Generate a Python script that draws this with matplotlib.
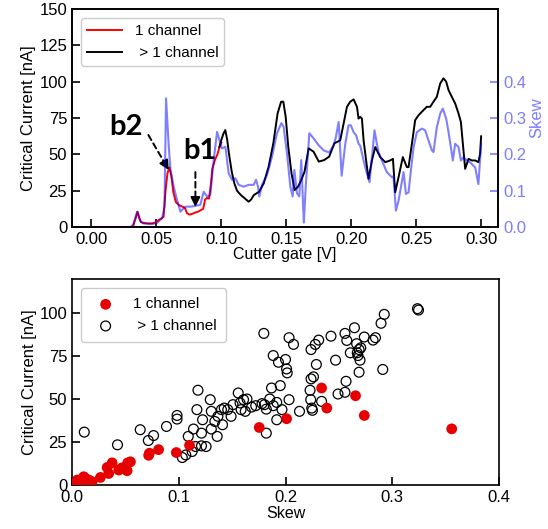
import numpy as np
import matplotlib
matplotlib.use('Agg')
import matplotlib.pyplot as plt

plt.rcParams['font.family'] = ['Liberation Sans', 'DejaVu Sans']

# --- top panel: critical current and skew vs cutter gate ---
gate_1ch = [0.000, 0.005, 0.010, 0.015, 0.020, 0.025, 0.030, 0.032, 0.034, 0.0355, 0.037, 0.038,
            0.040, 0.043, 0.047, 0.050, 0.052, 0.054, 0.0555, 0.057, 0.0585, 0.060, 0.0615, 0.063,
            0.065, 0.0675, 0.070, 0.072, 0.0735, 0.0755, 0.0775, 0.080, 0.082, 0.084, 0.086, 0.0875,
            0.089, 0.0905, 0.092, 0.093, 0.095, 0.097, 0.0985, 0.100]
ic_1ch = [0, 0, 0, 0, 0, 0, 0, 0.5, 6, 10.5, 6, 3.5,
          2.8, 2.5, 2.5, 3.5, 5, 6, 7, 25, 37, 41, 35, 24,
          17, 15, 14, 13, 9.5, 8.5, 9, 10, 10.5, 11.5, 12.5, 19,
          20, 19.5, 30, 40, 46, 50, 55, 58]

gate_multi = [0.0985, 0.100, 0.1015, 0.103, 0.1045, 0.1058, 0.108, 0.110, 0.112, 0.115, 0.118, 0.121,
              0.123, 0.125, 0.129, 0.1326, 0.1364, 0.140, 0.1433, 0.146, 0.1477, 0.1495, 0.1515, 0.154,
              0.1564, 0.159, 0.1615, 0.164, 0.1672, 0.171, 0.175, 0.179, 0.183, 0.187, 0.1915, 0.1967,
              0.1992, 0.2018, 0.2044, 0.2056, 0.2069, 0.2082, 0.2095, 0.2121, 0.2133, 0.2159, 0.2185,
              0.2223, 0.2262, 0.230, 0.2321, 0.2338, 0.2364, 0.2397, 0.2428, 0.2441, 0.2467, 0.2492,
              0.2518, 0.2556, 0.2582, 0.2608, 0.2633, 0.2659, 0.2685, 0.271, 0.2731, 0.2749, 0.2774,
              0.280, 0.2826, 0.2844, 0.2864, 0.2877, 0.289, 0.2903, 0.2928, 0.2954, 0.2979, 0.2992, 0.300]
ic_multi = [55, 60, 64, 66.7, 60, 50.7, 38, 30, 25, 22, 19.7, 17.4,
            19, 22, 24.2, 30, 41.5, 57.6, 78.2, 86.2, 86.2, 75.9, 55.3, 37,
            25.4, 27.7, 32.3, 38, 54.1, 51.8, 45, 46, 48.4, 57.6, 59.6, 82.7,
            86.2, 87.8, 82.7, 74.6, 75.8, 74.6, 59.6, 41.2, 33.1, 45.8, 55,
            48.1, 44.6, 45.8, 46.9, 23.8, 34.2, 48.1, 41.2, 41.2, 57.3, 73.5,
            76.9, 80.4, 82.7, 82.7, 86.2, 89.6, 98.8, 102.3, 100, 94.2, 89.6,
            85, 78.1, 72.3, 52.7, 40, 43.5, 46.9, 45.8, 45.8, 44.6, 50.4, 62.4]

gate_skew = [0.000, 0.030, 0.032, 0.0351, 0.0377, 0.040, 0.045, 0.050, 0.0544, 0.0562, 0.0574, 0.0595,
             0.0608, 0.0633, 0.0659, 0.0685, 0.0697, 0.0723, 0.0762, 0.080, 0.0838, 0.0864, 0.089,
             0.0915, 0.0941, 0.0967, 0.0985, 0.1005, 0.1031, 0.1056, 0.1082, 0.1108, 0.1133, 0.1172,
             0.121, 0.1249, 0.1267, 0.1282, 0.1292, 0.1313, 0.1351, 0.139, 0.1428, 0.1462, 0.1479,
             0.1505, 0.1531, 0.1549, 0.1562, 0.1582, 0.160, 0.1615, 0.1635, 0.1651, 0.1677, 0.171,
             0.1749, 0.1787, 0.183, 0.1865, 0.188, 0.1903, 0.1926, 0.1954, 0.1979, 0.1997, 0.2018,
             0.2038, 0.2056, 0.2069, 0.2095, 0.2121, 0.2141, 0.2159, 0.2179, 0.2197, 0.221, 0.2236,
             0.2274, 0.2313, 0.2325, 0.2344, 0.2364, 0.2382, 0.2403, 0.2421, 0.2441, 0.2459, 0.248,
             0.2505, 0.2544, 0.2569, 0.2595, 0.2621, 0.2633, 0.2659, 0.2685, 0.2705, 0.2731, 0.2749,
             0.2767, 0.2782, 0.280, 0.2826, 0.2844, 0.2864, 0.289, 0.2915, 0.2954, 0.2979, 0.300]
skew_line = [0, 0, 0.005, 0.042, 0.015, 0.010, 0.008, 0.010, 0.024, 0.056, 0.354, 0.221,
             0.157, 0.111, 0.074, 0.042, 0.047, 0.056, 0.056, 0.058, 0.061, 0.097, 0.084,
             0.088, 0.184, 0.262, 0.239, 0.216, 0.221, 0.148, 0.130, 0.134, 0.116, 0.111,
             0.116, 0.116, 0.130, 0.111, 0.084, 0.116, 0.143, 0.194, 0.258, 0.286, 0.276,
             0.203, 0.111, 0.084, 0.157, 0.093, 0.084, 0.184, 0.012, 0.120, 0.258, 0.244,
             0.225, 0.211, 0.205, 0.225, 0.245, 0.289, 0.141, 0.229, 0.280, 0.280, 0.261,
             0.252, 0.229, 0.224, 0.183, 0.146, 0.123, 0.192, 0.266, 0.229, 0.206, 0.183,
             0.151, 0.137, 0.140, 0.045, 0.072, 0.109, 0.151, 0.091, 0.095, 0.155, 0.220,
             0.261, 0.271, 0.266, 0.238, 0.211, 0.206, 0.275, 0.312, 0.326, 0.298, 0.261,
             0.220, 0.183, 0.229, 0.220, 0.183, 0.192, 0.183, 0.178, 0.164, 0.118, 0.229]

# --- bottom panel: critical current vs skew ---
skew_1ch = [0.3557, 0.2738, 0.2656, 0.2387, 0.2338, 0.201, 0.1754, 0.1101, 0.0977, 0.0811, 0.0718,
            0.0725, 0.0547, 0.0522, 0.0516, 0.0469, 0.0438, 0.0376, 0.0329, 0.0344, 0.0266, 0.0189,
            0.0157, 0.011, 0.0049, 0.002, 0.008, 0.013]
ic_pts_1ch = [32.7, 40.5, 52, 44.8, 56.5, 38.6, 33.5, 23.1, 18.9, 20.6, 17.3,
              18.5, 13.5, 12.9, 8.3, 10, 8.7, 12.9, 10.2, 6.7, 4.4, 1.9,
              2.9, 4.8, 2.9, 0.8, 1.5, 3.5]

skew_multi = [0.0115, 0.0426, 0.0639, 0.0715, 0.0764, 0.0885, 0.0984, 0.0984, 0.118, 0.117, 0.1138,
              0.1089, 0.1033, 0.1066, 0.1125, 0.1157, 0.1213, 0.1256, 0.1213, 0.1223, 0.1295, 0.1305,
              0.1305, 0.1338, 0.136, 0.1367, 0.140, 0.141, 0.1426, 0.1459, 0.149, 0.1508, 0.1557,
              0.1574, 0.1584, 0.1607, 0.1639, 0.1623, 0.1682, 0.1721, 0.178, 0.1803, 0.182, 0.1852,
              0.1885, 0.1918, 0.1869, 0.1951, 0.1918, 0.1967, 0.2033, 0.182, 0.1797, 0.1885, 0.1934,
              0.200, 0.201, 0.2016, 0.2033, 0.2075, 0.2131, 0.223, 0.2236, 0.2246, 0.2252, 0.2239,
              0.2262, 0.2289, 0.2239, 0.2279, 0.2311, 0.2338, 0.2426, 0.2469, 0.2492, 0.2567, 0.2557,
              0.2557, 0.2574, 0.2607, 0.2646, 0.2666, 0.2672, 0.2679, 0.2689, 0.2698, 0.2689, 0.2705,
              0.2738, 0.282, 0.2843, 0.2895, 0.2925, 0.2911, 0.3236, 0.3246]
ic_pts_multi = [30.8, 23.4, 32.2, 25.9, 28.8, 34.1, 40.5, 38.4, 55.2, 43.9, 32.6,
                28.3, 16, 17.5, 19.5, 22.4, 22.8, 22.4, 30.2, 38, 49.7, 42.9,
                32.6, 37, 28.3, 40, 43.9, 35.1, 44.8, 43.9, 40, 46.8, 53.6,
                47.8, 43.9, 49.7, 50.1, 42.9, 45.4, 46.2, 47.4, 46.8, 44.2, 50.1,
                46.2, 48.1, 56.5, 57.9, 38, 43.9, 49.7, 30.2, 88.3, 75.4, 71.5,
                73.1, 67.6, 65.3, 85.8, 81.9, 42.9, 55.2, 49.7, 44.8, 43.5, 61.8,
                63, 70.2, 78.9, 81.9, 84.4, 48.7, 86.7, 72.7, 53, 60.4, 54,
                88.3, 84.2, 77, 91.6, 82.3, 77, 75.4, 78.9, 72.7, 65.7, 79.9,
                86.2, 84.4, 85.8, 94.2, 99.4, 67.3, 102.7, 101.9]

skew_col = '#7d7dff'

fig = plt.figure(figsize=(5.48, 5.29), dpi=100)
ax1 = fig.add_axes([0.1314, 0.5709, 0.7774, 0.4121])
ax2 = ax1.twinx()

ax1.plot(gate_1ch, ic_1ch, color='red', lw=1.4, label='1 channel', zorder=3)
ax1.plot(gate_multi, ic_multi, color='black', lw=1.4, label=' > 1 channel', zorder=3)
ax2.plot(gate_skew, skew_line, color='blue', alpha=0.5, lw=1.5)

ax1.set_xlim(-0.015, 0.313)
ax1.set_ylim(0, 150)
ax1.set_xticks(np.arange(0, 0.301, 0.05))
ax1.set_yticks(np.arange(0, 151, 25))
ax2.set_ylim(0, 0.6)
ax2.set_yticks([0.0, 0.1, 0.2, 0.3, 0.4])
ax1.tick_params(direction='in', length=6, width=1.2, labelsize=12)
ax2.tick_params(direction='in', length=6, width=1.2, labelsize=12, colors=skew_col)
for a in (ax1, ax2):
    for s in a.spines.values():
        s.set_linewidth(1.2)
ax1.set_xlabel('Cutter gate [V]', fontsize=11.5, labelpad=0)
ax1.set_ylabel('Critical Current [nA]', fontsize=12, labelpad=2)
ax2.set_ylabel('Skew', fontsize=12, color=skew_col, labelpad=2)
ax1.legend(loc='upper left', fontsize=11, handlelength=2.3, handletextpad=0.8,
           edgecolor='#cccccc', framealpha=1, borderaxespad=0.6)

# annotations b2 / b1
ax1.text(0.0269, 68.8, 'b2', fontsize=21, fontweight='bold', ha='center', va='center',
         family=['Lato', 'DejaVu Sans'], zorder=5)
ax1.text(0.0838, 52.3, 'b1', fontsize=21, fontweight='bold', ha='center', va='center',
         family=['Lato', 'DejaVu Sans'], zorder=5)
for start, end, mid in [((0.0438, 63.3), (0.0595, 39.2), (0.0565, 43.8)),
                        ((0.080, 37.8), (0.080, 13.8), (0.080, 19.5))]:
    ax1.annotate('', xy=mid, xytext=start,
                 arrowprops=dict(arrowstyle='-', ls=(0, (3, 2)), lw=1.4, color='k',
                                 shrinkA=0, shrinkB=0), zorder=5)
    ax1.annotate('', xy=end, xytext=mid,
                 arrowprops=dict(arrowstyle='-|>', lw=1.4, color='k', mutation_scale=14,
                                 shrinkA=0, shrinkB=0), zorder=5)

# --- bottom scatter ---
ax3 = fig.add_axes([0.1314, 0.0832, 0.7792, 0.3894])
ax3.scatter(skew_1ch, ic_pts_1ch, s=60, color='#e60000', edgecolors='none', label='1 channel',
            zorder=3)
ax3.scatter(skew_multi, ic_pts_multi, s=50, facecolors='none', edgecolors='black', linewidths=0.9,
            label=' > 1 channel')
ax3.set_xlim(0, 0.4)
ax3.set_ylim(0, 120)
ax3.set_xticks([0.0, 0.1, 0.2, 0.3, 0.4])
ax3.set_yticks([0, 25, 50, 75, 100])
ax3.tick_params(direction='in', length=6, width=1.2, labelsize=12)
for s in ax3.spines.values():
    s.set_linewidth(1.2)
ax3.set_xlabel('Skew', fontsize=11.5, labelpad=1)
ax3.set_ylabel('Critical Current [nA]', fontsize=12, labelpad=2)
ax3.legend(loc='upper left', fontsize=11, scatterpoints=1, handletextpad=0.8,
           borderpad=0.6, edgecolor='#cccccc', framealpha=1, borderaxespad=0.6)

fig.savefig('out.png', dpi=100)
